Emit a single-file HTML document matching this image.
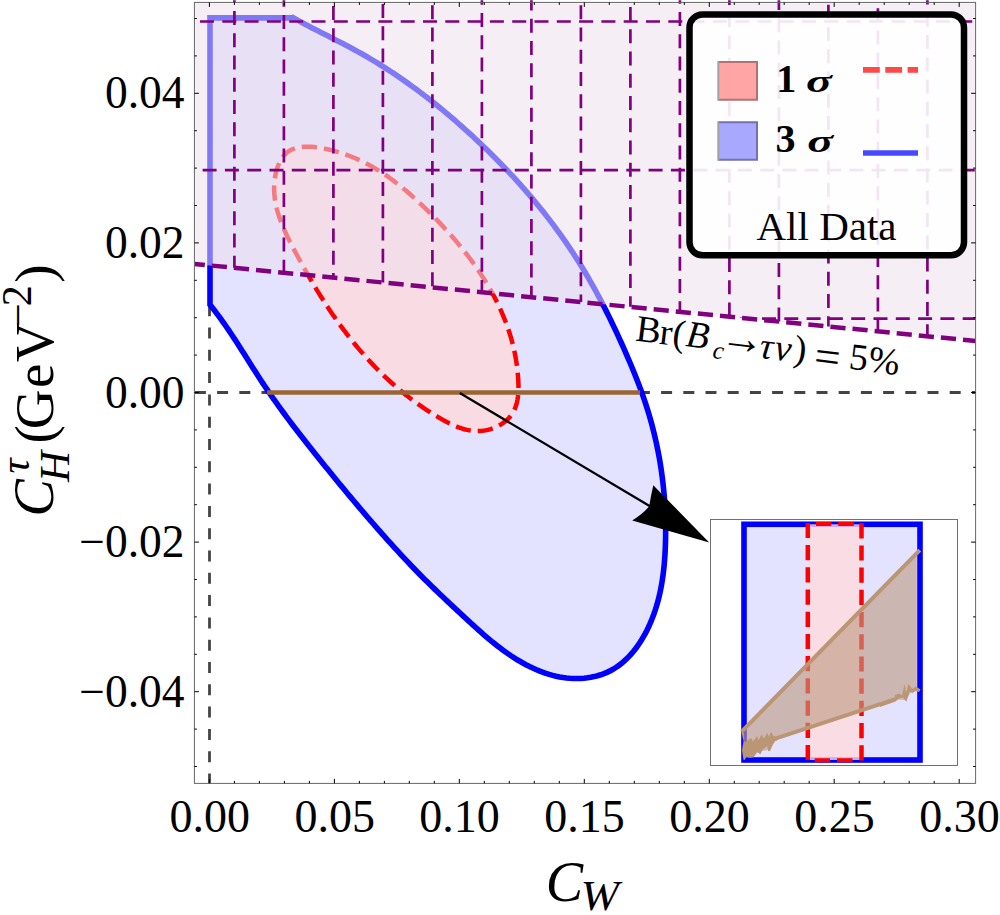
<!DOCTYPE html><html><head><meta charset="utf-8"><style>html,body{margin:0;padding:0;background:#fff;}svg{display:block;}text{font-family:"Liberation Serif",serif;}</style></head><body>
<svg width="1000" height="915" viewBox="0 0 1000 915">
<defs><clipPath id="pc"><rect x="194.4" y="2.4" width="781.2" height="781.0"/></clipPath>
<clipPath id="rc"><path d="M194.4,2.4 L975.6,2.4 L975.6,341.01 L194.4,263.90 Z"/></clipPath>
<clipPath id="rc2"><path d="M194.4,0.3 L975.6,0.3 L975.6,341.01 L194.4,263.90 Z"/></clipPath>
</defs>
<rect width="1000" height="915" fill="#fff"/>
<g clip-path="url(#pc)">
<path d="M210,17.9 L293.1,17.9 L293.30,17.70 L296.33,19.41 L299.37,21.10 L302.43,22.76 L305.50,24.41 L308.58,26.04 L311.67,27.66 L314.77,29.26 L317.87,30.86 L320.99,32.45 L324.10,34.04 L327.22,35.62 L330.33,37.21 L333.45,38.80 L336.57,40.39 L339.68,41.99 L342.79,43.60 L345.89,45.22 L348.99,46.85 L352.07,48.50 L355.15,50.17 L358.22,51.85 L361.27,53.56 L364.32,55.29 L367.35,57.04 L370.37,58.81 L373.37,60.60 L376.37,62.41 L379.35,64.24 L382.31,66.09 L385.27,67.96 L388.21,69.85 L391.13,71.76 L394.04,73.68 L396.94,75.63 L399.83,77.60 L402.70,79.58 L405.56,81.59 L408.41,83.61 L411.25,85.65 L414.07,87.70 L416.88,89.78 L419.67,91.87 L422.46,93.97 L425.23,96.10 L427.99,98.24 L430.74,100.39 L433.48,102.56 L436.20,104.75 L438.92,106.95 L441.62,109.16 L444.31,111.39 L446.99,113.64 L449.66,115.90 L452.32,118.17 L454.97,120.46 L457.61,122.75 L460.23,125.07 L462.85,127.39 L465.45,129.73 L468.05,132.08 L470.64,134.44 L473.21,136.81 L475.78,139.19 L478.33,141.59 L480.87,144.00 L483.41,146.42 L485.93,148.85 L488.44,151.29 L490.93,153.75 L493.42,156.22 L495.89,158.70 L498.35,161.19 L500.80,163.70 L503.24,166.21 L505.66,168.74 L508.07,171.28 L510.47,173.84 L512.85,176.40 L515.22,178.98 L517.57,181.57 L519.91,184.17 L522.24,186.79 L524.55,189.41 L526.85,192.05 L529.13,194.71 L531.40,197.37 L533.65,200.05 L535.88,202.73 L538.10,205.43 L540.31,208.15 L542.49,210.87 L544.66,213.61 L546.82,216.36 L548.96,219.13 L551.08,221.90 L553.18,224.69 L555.26,227.49 L557.33,230.30 L559.38,233.13 L561.41,235.97 L563.43,238.82 L565.42,241.68 L567.40,244.56 L569.35,247.45 L571.29,250.35 L573.21,253.27 L575.11,256.19 L576.99,259.13 L578.85,262.09 L580.69,265.05 L582.51,268.03 L584.31,271.02 L586.09,274.02 L587.86,277.03 L589.60,280.06 L591.33,283.09 L593.04,286.14 L594.73,289.20 L596.41,292.26 L598.07,295.34 L599.71,298.43 L601.34,301.52 L602.95,304.63 L604.54,307.74 L606.12,310.86 L607.69,313.99 L609.24,317.13 L610.78,320.27 L612.30,323.43 L613.81,326.59 L615.31,329.76 L616.79,332.93 L618.26,336.11 L619.72,339.30 L621.17,342.49 L622.60,345.69 L624.03,348.89 L625.44,352.10 L626.84,355.31 L628.23,358.53 L629.61,361.75 L630.97,364.98 L632.32,368.21 L633.65,371.45 L634.97,374.70 L636.26,377.95 L637.54,381.21 L638.79,384.48 L640.02,387.75 L641.23,391.04 L642.42,394.33 L643.57,397.62 L644.70,400.93 L645.81,404.24 L646.88,407.57 L647.92,410.90 L648.93,414.24 L649.92,417.59 L650.87,420.95 L651.79,424.31 L652.68,427.69 L653.54,431.07 L654.38,434.45 L655.18,437.85 L655.95,441.25 L656.69,444.66 L657.40,448.07 L658.09,451.50 L658.74,454.92 L659.36,458.36 L659.96,461.79 L660.52,465.24 L661.05,468.68 L661.56,472.14 L662.03,475.59 L662.48,479.06 L662.89,482.52 L663.28,485.99 L663.64,489.46 L663.97,492.94 L664.27,496.42 L664.53,499.90 L664.77,503.39 L664.99,506.87 L665.17,510.36 L665.32,513.85 L665.44,517.35 L665.54,520.84 L665.60,524.34 L665.64,527.83 L665.65,531.33 L665.62,534.83 L665.57,538.33 L665.49,541.83 L665.39,545.32 L665.25,548.82 L665.08,552.32 L664.88,555.81 L664.64,559.31 L664.37,562.79 L664.05,566.28 L663.69,569.76 L663.28,573.24 L662.82,576.71 L662.31,580.17 L661.75,583.62 L661.13,587.07 L660.45,590.51 L659.71,593.93 L658.90,597.35 L658.03,600.76 L657.09,604.15 L656.07,607.53 L654.98,610.90 L653.81,614.26 L652.56,617.60 L651.23,620.92 L649.82,624.21 L648.32,627.47 L646.74,630.68 L645.08,633.85 L643.34,636.97 L641.51,640.02 L639.60,643.00 L637.61,645.91 L635.53,648.74 L633.37,651.47 L631.12,654.11 L628.79,656.65 L626.37,659.07 L623.87,661.38 L621.28,663.56 L618.60,665.61 L615.83,667.52 L612.98,669.29 L610.05,670.90 L607.02,672.35 L603.91,673.65 L600.74,674.79 L597.49,675.78 L594.19,676.61 L590.83,677.30 L587.44,677.83 L584.00,678.22 L580.54,678.46 L577.05,678.56 L573.55,678.52 L570.05,678.33 L566.54,678.01 L563.04,677.55 L559.56,676.96 L556.09,676.23 L552.66,675.39 L549.25,674.42 L545.86,673.34 L542.52,672.16 L539.21,670.88 L535.94,669.51 L532.71,668.06 L529.53,666.54 L526.39,664.94 L523.30,663.27 L520.25,661.54 L517.24,659.75 L514.27,657.89 L511.33,655.98 L508.43,654.02 L505.56,652.01 L502.73,649.95 L499.92,647.85 L497.14,645.71 L494.39,643.53 L491.66,641.32 L488.96,639.07 L486.27,636.80 L483.61,634.51 L480.96,632.19 L478.33,629.86 L475.72,627.51 L473.11,625.14 L470.52,622.77 L467.94,620.40 L465.36,618.02 L462.79,615.64 L460.23,613.26 L457.67,610.89 L455.11,608.51 L452.56,606.13 L450.02,603.75 L447.49,601.37 L444.96,598.98 L442.44,596.59 L439.92,594.19 L437.42,591.78 L434.92,589.37 L432.43,586.95 L429.94,584.53 L427.47,582.09 L425.00,579.64 L422.54,577.19 L420.09,574.72 L417.65,572.24 L415.22,569.74 L412.80,567.24 L410.39,564.72 L407.99,562.19 L405.59,559.65 L403.20,557.10 L400.83,554.54 L398.45,551.97 L396.09,549.39 L393.73,546.80 L391.39,544.21 L389.04,541.61 L386.71,539.01 L384.38,536.39 L382.06,533.78 L379.74,531.15 L377.43,528.53 L375.13,525.89 L372.83,523.25 L370.53,520.61 L368.25,517.96 L365.97,515.31 L363.69,512.65 L361.42,509.99 L359.15,507.33 L356.89,504.66 L354.64,501.98 L352.38,499.30 L350.14,496.62 L347.90,493.94 L345.66,491.25 L343.43,488.55 L341.20,485.86 L338.97,483.16 L336.75,480.45 L334.54,477.75 L332.32,475.04 L330.11,472.33 L327.91,469.61 L325.71,466.89 L323.51,464.17 L321.31,461.45 L319.12,458.73 L316.93,456.00 L314.74,453.27 L312.56,450.53 L310.39,447.79 L308.22,445.05 L306.05,442.31 L303.89,439.56 L301.74,436.80 L299.60,434.04 L297.46,431.27 L295.33,428.50 L293.21,425.72 L291.10,422.94 L288.99,420.15 L286.90,417.35 L284.82,414.54 L282.75,411.73 L280.69,408.91 L278.64,406.08 L276.61,403.24 L274.58,400.39 L272.57,397.53 L270.58,394.66 L268.60,391.79 L266.63,388.90 L264.68,386.00 L262.74,383.09 L260.82,380.17 L258.91,377.24 L257.01,374.30 L255.13,371.36 L253.25,368.41 L251.37,365.45 L249.51,362.49 L247.64,359.53 L245.77,356.57 L243.90,353.61 L242.03,350.66 L240.15,347.70 L238.27,344.76 L236.37,341.81 L234.47,338.88 L232.55,335.96 L230.61,333.04 L228.66,330.14 L226.69,327.26 L224.70,324.38 L222.68,321.53 L220.64,318.69 L218.58,315.87 L216.48,313.07 L214.35,310.29 L212.19,307.53 L210.00,304.80 L210,304.8 Z" fill="#e3e3ff"/>
<path d="M274.92,177.75 L275.40,175.05 L275.99,172.36 L276.71,169.71 L277.55,167.11 L278.52,164.58 L279.62,162.16 L280.86,159.85 L282.23,157.68 L283.74,155.68 L285.41,153.87 L287.22,152.26 L289.18,150.88 L291.28,149.72 L293.51,148.76 L295.86,148.00 L298.31,147.42 L300.86,147.01 L303.48,146.75 L306.17,146.65 L308.91,146.67 L311.70,146.81 L314.51,147.07 L317.34,147.41 L320.18,147.85 L323.01,148.35 L325.82,148.91 L328.60,149.52 L331.35,150.18 L334.06,150.88 L336.75,151.63 L339.41,152.42 L342.04,153.25 L344.64,154.13 L347.21,155.04 L349.76,156.00 L352.28,157.00 L354.77,158.04 L357.23,159.11 L359.68,160.22 L362.09,161.37 L364.48,162.56 L366.85,163.78 L369.20,165.03 L371.52,166.32 L373.82,167.64 L376.10,168.99 L378.36,170.37 L380.60,171.79 L382.82,173.23 L385.02,174.70 L387.21,176.20 L389.37,177.73 L391.52,179.28 L393.65,180.86 L395.76,182.46 L397.86,184.09 L399.94,185.74 L402.01,187.41 L404.06,189.11 L406.10,190.82 L408.13,192.56 L410.15,194.31 L412.15,196.08 L414.14,197.87 L416.12,199.68 L418.10,201.50 L420.06,203.33 L422.01,205.19 L423.95,207.05 L425.89,208.93 L427.82,210.82 L429.74,212.72 L431.65,214.63 L433.55,216.56 L435.45,218.49 L437.34,220.44 L439.21,222.40 L441.08,224.37 L442.93,226.35 L444.78,228.35 L446.61,230.35 L448.43,232.37 L450.24,234.40 L452.03,236.44 L453.81,238.49 L455.58,240.56 L457.33,242.63 L459.07,244.72 L460.80,246.82 L462.50,248.93 L464.19,251.06 L465.87,253.19 L467.52,255.34 L469.16,257.50 L470.78,259.67 L472.38,261.85 L473.97,264.04 L475.53,266.25 L477.07,268.46 L478.60,270.69 L480.10,272.94 L481.58,275.19 L483.04,277.45 L484.47,279.73 L485.89,282.02 L487.28,284.32 L488.64,286.63 L489.98,288.95 L491.30,291.29 L492.59,293.64 L493.86,296.00 L495.10,298.37 L496.32,300.75 L497.50,303.15 L498.66,305.55 L499.80,307.97 L500.90,310.40 L501.97,312.85 L503.02,315.30 L504.04,317.77 L505.02,320.25 L505.98,322.74 L506.90,325.24 L507.79,327.76 L508.65,330.28 L509.48,332.82 L510.27,335.37 L511.04,337.94 L511.76,340.51 L512.46,343.10 L513.11,345.70 L513.74,348.31 L514.32,350.93 L514.87,353.57 L515.39,356.22 L515.86,358.87 L516.30,361.55 L516.70,364.23 L517.07,366.93 L517.39,369.63 L517.67,372.35 L517.92,375.08 L518.12,377.83 L518.28,380.59 L518.40,383.35 L518.46,386.11 L518.44,388.87 L518.35,391.60 L518.17,394.31 L517.89,396.98 L517.49,399.61 L516.97,402.19 L516.32,404.70 L515.51,407.15 L514.55,409.51 L513.43,411.79 L512.12,413.97 L510.62,416.04 L508.94,418.01 L507.08,419.85 L505.07,421.58 L502.92,423.18 L500.65,424.64 L498.27,425.97 L495.80,427.16 L493.25,428.21 L490.65,429.10 L488.00,429.84 L485.33,430.41 L482.65,430.82 L479.98,431.06 L477.32,431.13 L474.68,431.04 L472.05,430.79 L469.45,430.40 L466.86,429.87 L464.30,429.23 L461.75,428.46 L459.22,427.59 L456.70,426.62 L454.21,425.57 L451.73,424.44 L449.27,423.24 L446.83,421.99 L444.40,420.69 L442.00,419.35 L439.61,417.97 L437.24,416.58 L434.88,415.16 L432.55,413.73 L430.23,412.27 L427.93,410.79 L425.65,409.29 L423.38,407.77 L421.13,406.23 L418.90,404.67 L416.69,403.09 L414.50,401.49 L412.32,399.87 L410.16,398.24 L408.02,396.59 L405.89,394.92 L403.78,393.23 L401.70,391.53 L399.62,389.81 L397.57,388.07 L395.53,386.32 L393.51,384.55 L391.51,382.77 L389.53,380.98 L387.56,379.17 L385.61,377.34 L383.68,375.50 L381.77,373.65 L379.87,371.78 L377.98,369.90 L376.12,368.01 L374.27,366.10 L372.43,364.18 L370.61,362.24 L368.81,360.30 L367.02,358.34 L365.25,356.36 L363.49,354.38 L361.74,352.38 L360.01,350.37 L358.30,348.34 L356.60,346.31 L354.91,344.26 L353.23,342.20 L351.57,340.13 L349.92,338.05 L348.29,335.95 L346.67,333.85 L345.06,331.73 L343.46,329.60 L341.87,327.46 L340.30,325.31 L338.74,323.15 L337.19,320.98 L335.65,318.80 L334.13,316.61 L332.61,314.41 L331.10,312.20 L329.61,309.98 L328.12,307.74 L326.65,305.50 L325.19,303.25 L323.73,300.99 L322.29,298.72 L320.85,296.45 L319.43,294.16 L318.01,291.86 L316.60,289.56 L315.20,287.25 L313.81,284.92 L312.43,282.59 L311.05,280.26 L309.69,277.91 L308.33,275.56 L306.97,273.20 L305.63,270.83 L304.29,268.45 L302.96,266.07 L301.64,263.68 L300.32,261.28 L299.01,258.88 L297.70,256.46 L296.40,254.05 L295.11,251.62 L293.82,249.19 L292.54,246.75 L291.27,244.31 L290.02,241.86 L288.79,239.40 L287.58,236.93 L286.40,234.46 L285.25,231.98 L284.14,229.49 L283.07,226.99 L282.03,224.49 L281.04,221.98 L280.11,219.45 L279.22,216.92 L278.40,214.38 L277.63,211.83 L276.93,209.27 L276.30,206.70 L275.74,204.13 L275.25,201.54 L274.85,198.94 L274.52,196.33 L274.29,193.71 L274.15,191.08 L274.10,188.43 L274.14,185.78 L274.30,183.11 L274.55,180.44 L274.92,177.75 Z" fill="#f9dbe3"/>
<line x1="194.9" y1="392.5" x2="975.6" y2="392.5" stroke="#444" stroke-width="2.9" stroke-dasharray="11 11.2"/>
<line x1="209.5" y1="37.6" x2="209.5" y2="790" stroke="#444" stroke-width="2.8" stroke-dasharray="11 11.3"/>
<path d="M210,17.9 L293.1,17.9 L293.30,17.70 L296.33,19.41 L299.37,21.10 L302.43,22.76 L305.50,24.41 L308.58,26.04 L311.67,27.66 L314.77,29.26 L317.87,30.86 L320.99,32.45 L324.10,34.04 L327.22,35.62 L330.33,37.21 L333.45,38.80 L336.57,40.39 L339.68,41.99 L342.79,43.60 L345.89,45.22 L348.99,46.85 L352.07,48.50 L355.15,50.17 L358.22,51.85 L361.27,53.56 L364.32,55.29 L367.35,57.04 L370.37,58.81 L373.37,60.60 L376.37,62.41 L379.35,64.24 L382.31,66.09 L385.27,67.96 L388.21,69.85 L391.13,71.76 L394.04,73.68 L396.94,75.63 L399.83,77.60 L402.70,79.58 L405.56,81.59 L408.41,83.61 L411.25,85.65 L414.07,87.70 L416.88,89.78 L419.67,91.87 L422.46,93.97 L425.23,96.10 L427.99,98.24 L430.74,100.39 L433.48,102.56 L436.20,104.75 L438.92,106.95 L441.62,109.16 L444.31,111.39 L446.99,113.64 L449.66,115.90 L452.32,118.17 L454.97,120.46 L457.61,122.75 L460.23,125.07 L462.85,127.39 L465.45,129.73 L468.05,132.08 L470.64,134.44 L473.21,136.81 L475.78,139.19 L478.33,141.59 L480.87,144.00 L483.41,146.42 L485.93,148.85 L488.44,151.29 L490.93,153.75 L493.42,156.22 L495.89,158.70 L498.35,161.19 L500.80,163.70 L503.24,166.21 L505.66,168.74 L508.07,171.28 L510.47,173.84 L512.85,176.40 L515.22,178.98 L517.57,181.57 L519.91,184.17 L522.24,186.79 L524.55,189.41 L526.85,192.05 L529.13,194.71 L531.40,197.37 L533.65,200.05 L535.88,202.73 L538.10,205.43 L540.31,208.15 L542.49,210.87 L544.66,213.61 L546.82,216.36 L548.96,219.13 L551.08,221.90 L553.18,224.69 L555.26,227.49 L557.33,230.30 L559.38,233.13 L561.41,235.97 L563.43,238.82 L565.42,241.68 L567.40,244.56 L569.35,247.45 L571.29,250.35 L573.21,253.27 L575.11,256.19 L576.99,259.13 L578.85,262.09 L580.69,265.05 L582.51,268.03 L584.31,271.02 L586.09,274.02 L587.86,277.03 L589.60,280.06 L591.33,283.09 L593.04,286.14 L594.73,289.20 L596.41,292.26 L598.07,295.34 L599.71,298.43 L601.34,301.52 L602.95,304.63 L604.54,307.74 L606.12,310.86 L607.69,313.99 L609.24,317.13 L610.78,320.27 L612.30,323.43 L613.81,326.59 L615.31,329.76 L616.79,332.93 L618.26,336.11 L619.72,339.30 L621.17,342.49 L622.60,345.69 L624.03,348.89 L625.44,352.10 L626.84,355.31 L628.23,358.53 L629.61,361.75 L630.97,364.98 L632.32,368.21 L633.65,371.45 L634.97,374.70 L636.26,377.95 L637.54,381.21 L638.79,384.48 L640.02,387.75 L641.23,391.04 L642.42,394.33 L643.57,397.62 L644.70,400.93 L645.81,404.24 L646.88,407.57 L647.92,410.90 L648.93,414.24 L649.92,417.59 L650.87,420.95 L651.79,424.31 L652.68,427.69 L653.54,431.07 L654.38,434.45 L655.18,437.85 L655.95,441.25 L656.69,444.66 L657.40,448.07 L658.09,451.50 L658.74,454.92 L659.36,458.36 L659.96,461.79 L660.52,465.24 L661.05,468.68 L661.56,472.14 L662.03,475.59 L662.48,479.06 L662.89,482.52 L663.28,485.99 L663.64,489.46 L663.97,492.94 L664.27,496.42 L664.53,499.90 L664.77,503.39 L664.99,506.87 L665.17,510.36 L665.32,513.85 L665.44,517.35 L665.54,520.84 L665.60,524.34 L665.64,527.83 L665.65,531.33 L665.62,534.83 L665.57,538.33 L665.49,541.83 L665.39,545.32 L665.25,548.82 L665.08,552.32 L664.88,555.81 L664.64,559.31 L664.37,562.79 L664.05,566.28 L663.69,569.76 L663.28,573.24 L662.82,576.71 L662.31,580.17 L661.75,583.62 L661.13,587.07 L660.45,590.51 L659.71,593.93 L658.90,597.35 L658.03,600.76 L657.09,604.15 L656.07,607.53 L654.98,610.90 L653.81,614.26 L652.56,617.60 L651.23,620.92 L649.82,624.21 L648.32,627.47 L646.74,630.68 L645.08,633.85 L643.34,636.97 L641.51,640.02 L639.60,643.00 L637.61,645.91 L635.53,648.74 L633.37,651.47 L631.12,654.11 L628.79,656.65 L626.37,659.07 L623.87,661.38 L621.28,663.56 L618.60,665.61 L615.83,667.52 L612.98,669.29 L610.05,670.90 L607.02,672.35 L603.91,673.65 L600.74,674.79 L597.49,675.78 L594.19,676.61 L590.83,677.30 L587.44,677.83 L584.00,678.22 L580.54,678.46 L577.05,678.56 L573.55,678.52 L570.05,678.33 L566.54,678.01 L563.04,677.55 L559.56,676.96 L556.09,676.23 L552.66,675.39 L549.25,674.42 L545.86,673.34 L542.52,672.16 L539.21,670.88 L535.94,669.51 L532.71,668.06 L529.53,666.54 L526.39,664.94 L523.30,663.27 L520.25,661.54 L517.24,659.75 L514.27,657.89 L511.33,655.98 L508.43,654.02 L505.56,652.01 L502.73,649.95 L499.92,647.85 L497.14,645.71 L494.39,643.53 L491.66,641.32 L488.96,639.07 L486.27,636.80 L483.61,634.51 L480.96,632.19 L478.33,629.86 L475.72,627.51 L473.11,625.14 L470.52,622.77 L467.94,620.40 L465.36,618.02 L462.79,615.64 L460.23,613.26 L457.67,610.89 L455.11,608.51 L452.56,606.13 L450.02,603.75 L447.49,601.37 L444.96,598.98 L442.44,596.59 L439.92,594.19 L437.42,591.78 L434.92,589.37 L432.43,586.95 L429.94,584.53 L427.47,582.09 L425.00,579.64 L422.54,577.19 L420.09,574.72 L417.65,572.24 L415.22,569.74 L412.80,567.24 L410.39,564.72 L407.99,562.19 L405.59,559.65 L403.20,557.10 L400.83,554.54 L398.45,551.97 L396.09,549.39 L393.73,546.80 L391.39,544.21 L389.04,541.61 L386.71,539.01 L384.38,536.39 L382.06,533.78 L379.74,531.15 L377.43,528.53 L375.13,525.89 L372.83,523.25 L370.53,520.61 L368.25,517.96 L365.97,515.31 L363.69,512.65 L361.42,509.99 L359.15,507.33 L356.89,504.66 L354.64,501.98 L352.38,499.30 L350.14,496.62 L347.90,493.94 L345.66,491.25 L343.43,488.55 L341.20,485.86 L338.97,483.16 L336.75,480.45 L334.54,477.75 L332.32,475.04 L330.11,472.33 L327.91,469.61 L325.71,466.89 L323.51,464.17 L321.31,461.45 L319.12,458.73 L316.93,456.00 L314.74,453.27 L312.56,450.53 L310.39,447.79 L308.22,445.05 L306.05,442.31 L303.89,439.56 L301.74,436.80 L299.60,434.04 L297.46,431.27 L295.33,428.50 L293.21,425.72 L291.10,422.94 L288.99,420.15 L286.90,417.35 L284.82,414.54 L282.75,411.73 L280.69,408.91 L278.64,406.08 L276.61,403.24 L274.58,400.39 L272.57,397.53 L270.58,394.66 L268.60,391.79 L266.63,388.90 L264.68,386.00 L262.74,383.09 L260.82,380.17 L258.91,377.24 L257.01,374.30 L255.13,371.36 L253.25,368.41 L251.37,365.45 L249.51,362.49 L247.64,359.53 L245.77,356.57 L243.90,353.61 L242.03,350.66 L240.15,347.70 L238.27,344.76 L236.37,341.81 L234.47,338.88 L232.55,335.96 L230.61,333.04 L228.66,330.14 L226.69,327.26 L224.70,324.38 L222.68,321.53 L220.64,318.69 L218.58,315.87 L216.48,313.07 L214.35,310.29 L212.19,307.53 L210.00,304.80 L210,304.8 Z" fill="none" stroke="#0000ff" stroke-width="5.6" stroke-linejoin="miter"/>
<path d="M274.92,177.75 L275.40,175.05 L275.99,172.36 L276.71,169.71 L277.55,167.11 L278.52,164.58 L279.62,162.16 L280.86,159.85 L282.23,157.68 L283.74,155.68 L285.41,153.87 L287.22,152.26 L289.18,150.88 L291.28,149.72 L293.51,148.76 L295.86,148.00 L298.31,147.42 L300.86,147.01 L303.48,146.75 L306.17,146.65 L308.91,146.67 L311.70,146.81 L314.51,147.07 L317.34,147.41 L320.18,147.85 L323.01,148.35 L325.82,148.91 L328.60,149.52 L331.35,150.18 L334.06,150.88 L336.75,151.63 L339.41,152.42 L342.04,153.25 L344.64,154.13 L347.21,155.04 L349.76,156.00 L352.28,157.00 L354.77,158.04 L357.23,159.11 L359.68,160.22 L362.09,161.37 L364.48,162.56 L366.85,163.78 L369.20,165.03 L371.52,166.32 L373.82,167.64 L376.10,168.99 L378.36,170.37 L380.60,171.79 L382.82,173.23 L385.02,174.70 L387.21,176.20 L389.37,177.73 L391.52,179.28 L393.65,180.86 L395.76,182.46 L397.86,184.09 L399.94,185.74 L402.01,187.41 L404.06,189.11 L406.10,190.82 L408.13,192.56 L410.15,194.31 L412.15,196.08 L414.14,197.87 L416.12,199.68 L418.10,201.50 L420.06,203.33 L422.01,205.19 L423.95,207.05 L425.89,208.93 L427.82,210.82 L429.74,212.72 L431.65,214.63 L433.55,216.56 L435.45,218.49 L437.34,220.44 L439.21,222.40 L441.08,224.37 L442.93,226.35 L444.78,228.35 L446.61,230.35 L448.43,232.37 L450.24,234.40 L452.03,236.44 L453.81,238.49 L455.58,240.56 L457.33,242.63 L459.07,244.72 L460.80,246.82 L462.50,248.93 L464.19,251.06 L465.87,253.19 L467.52,255.34 L469.16,257.50 L470.78,259.67 L472.38,261.85 L473.97,264.04 L475.53,266.25 L477.07,268.46 L478.60,270.69 L480.10,272.94 L481.58,275.19 L483.04,277.45 L484.47,279.73 L485.89,282.02 L487.28,284.32 L488.64,286.63 L489.98,288.95 L491.30,291.29 L492.59,293.64 L493.86,296.00 L495.10,298.37 L496.32,300.75 L497.50,303.15 L498.66,305.55 L499.80,307.97 L500.90,310.40 L501.97,312.85 L503.02,315.30 L504.04,317.77 L505.02,320.25 L505.98,322.74 L506.90,325.24 L507.79,327.76 L508.65,330.28 L509.48,332.82 L510.27,335.37 L511.04,337.94 L511.76,340.51 L512.46,343.10 L513.11,345.70 L513.74,348.31 L514.32,350.93 L514.87,353.57 L515.39,356.22 L515.86,358.87 L516.30,361.55 L516.70,364.23 L517.07,366.93 L517.39,369.63 L517.67,372.35 L517.92,375.08 L518.12,377.83 L518.28,380.59 L518.40,383.35 L518.46,386.11 L518.44,388.87 L518.35,391.60 L518.17,394.31 L517.89,396.98 L517.49,399.61 L516.97,402.19 L516.32,404.70 L515.51,407.15 L514.55,409.51 L513.43,411.79 L512.12,413.97 L510.62,416.04 L508.94,418.01 L507.08,419.85 L505.07,421.58 L502.92,423.18 L500.65,424.64 L498.27,425.97 L495.80,427.16 L493.25,428.21 L490.65,429.10 L488.00,429.84 L485.33,430.41 L482.65,430.82 L479.98,431.06 L477.32,431.13 L474.68,431.04 L472.05,430.79 L469.45,430.40 L466.86,429.87 L464.30,429.23 L461.75,428.46 L459.22,427.59 L456.70,426.62 L454.21,425.57 L451.73,424.44 L449.27,423.24 L446.83,421.99 L444.40,420.69 L442.00,419.35 L439.61,417.97 L437.24,416.58 L434.88,415.16 L432.55,413.73 L430.23,412.27 L427.93,410.79 L425.65,409.29 L423.38,407.77 L421.13,406.23 L418.90,404.67 L416.69,403.09 L414.50,401.49 L412.32,399.87 L410.16,398.24 L408.02,396.59 L405.89,394.92 L403.78,393.23 L401.70,391.53 L399.62,389.81 L397.57,388.07 L395.53,386.32 L393.51,384.55 L391.51,382.77 L389.53,380.98 L387.56,379.17 L385.61,377.34 L383.68,375.50 L381.77,373.65 L379.87,371.78 L377.98,369.90 L376.12,368.01 L374.27,366.10 L372.43,364.18 L370.61,362.24 L368.81,360.30 L367.02,358.34 L365.25,356.36 L363.49,354.38 L361.74,352.38 L360.01,350.37 L358.30,348.34 L356.60,346.31 L354.91,344.26 L353.23,342.20 L351.57,340.13 L349.92,338.05 L348.29,335.95 L346.67,333.85 L345.06,331.73 L343.46,329.60 L341.87,327.46 L340.30,325.31 L338.74,323.15 L337.19,320.98 L335.65,318.80 L334.13,316.61 L332.61,314.41 L331.10,312.20 L329.61,309.98 L328.12,307.74 L326.65,305.50 L325.19,303.25 L323.73,300.99 L322.29,298.72 L320.85,296.45 L319.43,294.16 L318.01,291.86 L316.60,289.56 L315.20,287.25 L313.81,284.92 L312.43,282.59 L311.05,280.26 L309.69,277.91 L308.33,275.56 L306.97,273.20 L305.63,270.83 L304.29,268.45 L302.96,266.07 L301.64,263.68 L300.32,261.28 L299.01,258.88 L297.70,256.46 L296.40,254.05 L295.11,251.62 L293.82,249.19 L292.54,246.75 L291.27,244.31 L290.02,241.86 L288.79,239.40 L287.58,236.93 L286.40,234.46 L285.25,231.98 L284.14,229.49 L283.07,226.99 L282.03,224.49 L281.04,221.98 L280.11,219.45 L279.22,216.92 L278.40,214.38 L277.63,211.83 L276.93,209.27 L276.30,206.70 L275.74,204.13 L275.25,201.54 L274.85,198.94 L274.52,196.33 L274.29,193.71 L274.15,191.08 L274.10,188.43 L274.14,185.78 L274.30,183.11 L274.55,180.44 L274.92,177.75 Z" fill="none" stroke="#ff0000" stroke-width="4.5" stroke-dasharray="15.3 7"/>
<line x1="267.1" y1="392.6" x2="640.1" y2="392.6" stroke="#996633" stroke-width="4.5"/>
<path d="M194.4,2.4 L975.6,2.4 L975.6,341.01 L194.4,263.90 Z" fill="rgb(236,223,236)" fill-opacity="0.54"/>
</g>
<g clip-path="url(#rc2)" stroke="#800080" stroke-width="2.7" fill="none">
<line x1="234.4" y1="-11.25" x2="234.4" y2="270.84" stroke-dasharray="14 8.25"/>
<line x1="283.9" y1="-7.25" x2="283.9" y2="275.73" stroke-dasharray="14 8.25"/>
<line x1="333.4" y1="-16.25" x2="333.4" y2="280.62" stroke-dasharray="14 8.25"/>
<line x1="382.9" y1="-18.25" x2="382.9" y2="285.50" stroke-dasharray="14 8.25"/>
<line x1="432.4" y1="-16.95" x2="432.4" y2="290.39" stroke-dasharray="14 8.25"/>
<line x1="481.9" y1="-9.25" x2="481.9" y2="295.28" stroke-dasharray="14 8.25"/>
<line x1="531.4" y1="-3.55" x2="531.4" y2="300.16" stroke-dasharray="14 8.25"/>
<line x1="580.9" y1="-16.95" x2="580.9" y2="305.05" stroke-dasharray="14 8.25"/>
<line x1="630.4" y1="-15.25" x2="630.4" y2="309.94" stroke-dasharray="14 8.25"/>
<line x1="679.9" y1="-10.25" x2="679.9" y2="314.82" stroke-dasharray="14 8.25"/>
<line x1="729.4" y1="-9.00" x2="729.4" y2="319.71" stroke-dasharray="14 8.25"/>
<line x1="778.9" y1="-4.00" x2="778.9" y2="324.60" stroke-dasharray="14 8.25"/>
<line x1="828.4" y1="-17.50" x2="828.4" y2="329.48" stroke-dasharray="14 8.25"/>
<line x1="877.9" y1="-13.90" x2="877.9" y2="334.37" stroke-dasharray="14 8.25"/>
<line x1="927.4" y1="-9.50" x2="927.4" y2="339.26" stroke-dasharray="14 8.25"/>
<line x1="88.5" y1="21.5" x2="980.6" y2="21.5" stroke-dasharray="14 8.3"/>
<line x1="91.1" y1="170.1" x2="980.6" y2="170.1" stroke-dasharray="14 8.3"/>
<line x1="93.0" y1="318.6" x2="980.6" y2="318.6" stroke-dasharray="14 8.3"/>
</g>
<g clip-path="url(#pc)">
<line x1="194.4" y1="263.90" x2="975.6" y2="341.01" stroke="#800080" stroke-width="4.5" stroke-dasharray="15.2 7" stroke-dashoffset="4.7"/>
</g>
<line x1="459.8" y1="393" x2="650" y2="506.2" stroke="#000" stroke-width="2.2"/>
<path d="M709.2,542.4 L653.3,485.3 Q650.6,497 649.3,506.1 Q643.5,513.5 632.2,520.5 Z" fill="#000"/>
<rect x="710.5" y="519.5" width="247" height="246" fill="#fff" stroke="#707070" stroke-width="1"/>
<rect x="744" y="524.3" width="176" height="235.7" fill="#e3e3ff"/>
<rect x="744" y="524.3" width="176" height="235.7" fill="none" stroke="#0000ff" stroke-width="5.6"/>
<rect x="807.8" y="524.3" width="53.7" height="235.7" fill="rgb(255,218,222)" fill-opacity="0.8"/>
<path d="M807.8,522.9 V760.5 M861.5,523.2 V760.5" fill="none" stroke="#ff0000" stroke-width="4.5" stroke-dasharray="15.2 7"/>
<path d="M816,524 H831.3 M838.2,524 H853.8 M814.7,760.2 H830 M837,760.2 H852.5" fill="none" stroke="#ff0000" stroke-width="4"/>
<path d="M744,731.3 L919.2,550.4 L916.8,551 L916.8,688 L912,690 L906,700 L895,699.4 L775.2,739 L768,750 L757,752 L746,758 L744,759 Z" fill="rgb(190,155,129)" fill-opacity="0.62"/>
<line x1="741.6" y1="731.6" x2="919.8" y2="550.2" stroke="#bb9674" stroke-width="4"/>
<polyline points="775.2,738.6 894.7,699.4" fill="none" stroke="#bb9674" stroke-width="4"/>
<polygon points="880,703 894.7,697.5 894.7,695.3 898.9,693.6 902.1,695.5 904.6,684 906,693 908.5,684 912.2,689 915.9,686.5 920.5,689.5 919,692 915.5,691 912.5,693 909.5,692 906.4,701.7 903,697.5 898.9,698.5 895.5,701.5 880,707" fill="#bb9674"/>
<polygon points="741.3,731.3 744,732.5 744.5,742 746.8,741.1 751.1,738.1 753.1,741.6 757.1,736.1 758.6,740.1 761.6,734.6 764.1,738.6 767.2,733.1 768.7,736.6 771.4,731.8 773.2,736.1 775.2,736.6 777,741 775.2,741.1 772.2,746.1 770.2,750.7 768.2,751.2 767.2,746.1 762.1,750.2 760.6,754.2 757.1,752.2 755.1,755.2 753.6,757.2 749.1,757.7 746.1,756.2 745,759.7 743.5,759.7 742,750.2 743.5,741" fill="#bb9674"/>
<rect x="689.5" y="14.4" width="274.5" height="240.9" rx="13" ry="13" fill="#fff" fill-opacity="0.9" stroke="#000" stroke-width="6.5"/>
<rect x="718.3" y="62.1" width="38.6" height="37.6" fill="#ffa5a5"/>
<path d="M718.3,62.1 H757 V99.7 H718.3" fill="none" stroke="#b07272" stroke-width="2"/>
<path d="M718.3,61 V100.8" fill="none" stroke="#a2a2a2" stroke-width="2"/>
<rect x="718.3" y="122.3" width="38.6" height="37.4" fill="#a8a8ff"/>
<path d="M718.3,122.3 H757 V159.7 H718.3" fill="none" stroke="#7272b0" stroke-width="2"/>
<path d="M718.3,121.2 V160.8" fill="none" stroke="#a2a2a2" stroke-width="2"/>
<text x="776.2" y="91.7" font-size="40" font-weight="bold">1</text>
<text x="775.6" y="151.6" font-size="40" font-weight="bold">3</text>
<text transform="translate(806.1,91.7) scale(1.2,0.79)" font-size="40" font-weight="bold" font-style="italic">σ</text>
<text transform="translate(807.3,151.7) scale(1.2,0.79)" font-size="40" font-weight="bold" font-style="italic">σ</text>
<line x1="863" y1="69.9" x2="918" y2="69.9" stroke="#ff4848" stroke-width="5.8" stroke-dasharray="16.8 5.5"/>
<line x1="863" y1="153" x2="918" y2="153" stroke="#4848ff" stroke-width="5.5"/>
<text x="756.5" y="240" font-size="41">All Data</text>
<rect x="194.4" y="2.4" width="781.2" height="781.0" fill="none" stroke="#666" stroke-width="1"/>
<path d="M209.4,783.4v-4.5 M209.4,2.4v4.5 M234.4,783.4v-2.5 M234.4,2.4v2.5 M259.4,783.4v-2.5 M259.4,2.4v2.5 M284.4,783.4v-2.5 M284.4,2.4v2.5 M309.4,783.4v-2.5 M309.4,2.4v2.5 M334.4,783.4v-4.5 M334.4,2.4v4.5 M359.4,783.4v-2.5 M359.4,2.4v2.5 M384.4,783.4v-2.5 M384.4,2.4v2.5 M409.3,783.4v-2.5 M409.3,2.4v2.5 M434.3,783.4v-2.5 M434.3,2.4v2.5 M459.3,783.4v-4.5 M459.3,2.4v4.5 M484.3,783.4v-2.5 M484.3,2.4v2.5 M509.3,783.4v-2.5 M509.3,2.4v2.5 M534.3,783.4v-2.5 M534.3,2.4v2.5 M559.3,783.4v-2.5 M559.3,2.4v2.5 M584.3,783.4v-4.5 M584.3,2.4v4.5 M609.3,783.4v-2.5 M609.3,2.4v2.5 M634.3,783.4v-2.5 M634.3,2.4v2.5 M659.3,783.4v-2.5 M659.3,2.4v2.5 M684.3,783.4v-2.5 M684.3,2.4v2.5 M709.3,783.4v-4.5 M709.3,2.4v4.5 M734.3,783.4v-2.5 M734.3,2.4v2.5 M759.2,783.4v-2.5 M759.2,2.4v2.5 M784.2,783.4v-2.5 M784.2,2.4v2.5 M809.2,783.4v-2.5 M809.2,2.4v2.5 M834.2,783.4v-4.5 M834.2,2.4v4.5 M859.2,783.4v-2.5 M859.2,2.4v2.5 M884.2,783.4v-2.5 M884.2,2.4v2.5 M909.2,783.4v-2.5 M909.2,2.4v2.5 M934.2,783.4v-2.5 M934.2,2.4v2.5 M959.2,783.4v-4.5 M959.2,2.4v4.5 M194.4,766.5h2.5 M975.6,766.5h-2.5 M194.4,729.1h2.5 M975.6,729.1h-2.5 M194.4,691.7h4.5 M975.6,691.7h-4.5 M194.4,654.3h2.5 M975.6,654.3h-2.5 M194.4,616.9h2.5 M975.6,616.9h-2.5 M194.4,579.5h2.5 M975.6,579.5h-2.5 M194.4,542.1h4.5 M975.6,542.1h-4.5 M194.4,504.7h2.5 M975.6,504.7h-2.5 M194.4,467.3h2.5 M975.6,467.3h-2.5 M194.4,429.9h2.5 M975.6,429.9h-2.5 M194.4,392.5h4.5 M975.6,392.5h-4.5 M194.4,355.1h2.5 M975.6,355.1h-2.5 M194.4,317.7h2.5 M975.6,317.7h-2.5 M194.4,280.3h2.5 M975.6,280.3h-2.5 M194.4,242.9h4.5 M975.6,242.9h-4.5 M194.4,205.5h2.5 M975.6,205.5h-2.5 M194.4,168.1h2.5 M975.6,168.1h-2.5 M194.4,130.7h2.5 M975.6,130.7h-2.5 M194.4,93.3h4.5 M975.6,93.3h-4.5 M194.4,55.9h2.5 M975.6,55.9h-2.5 M194.4,18.5h2.5 M975.6,18.5h-2.5" stroke="#000" stroke-width="1" fill="none"/>
<text x="184.6" y="108.3" font-size="45.5" text-anchor="end">0.04</text>
<text x="184.6" y="257.9" font-size="45.5" text-anchor="end">0.02</text>
<text x="184.6" y="407.5" font-size="45.5" text-anchor="end">0.00</text>
<text x="184.6" y="557.1" font-size="45.5" text-anchor="end">−0.02</text>
<text x="184.6" y="706.7" font-size="45.5" text-anchor="end">−0.04</text>
<text x="209.7" y="831.8" font-size="46" text-anchor="middle">0.00</text>
<text x="334.7" y="831.8" font-size="46" text-anchor="middle">0.05</text>
<text x="459.6" y="831.8" font-size="46" text-anchor="middle">0.10</text>
<text x="584.6" y="831.8" font-size="46" text-anchor="middle">0.15</text>
<text x="709.6" y="831.8" font-size="46" text-anchor="middle">0.20</text>
<text x="834.5" y="831.8" font-size="46" text-anchor="middle">0.25</text>
<text x="959.5" y="831.8" font-size="46" text-anchor="middle">0.30</text>
<text x="545.8" y="901" font-size="56" font-style="italic">C</text>
<text transform="translate(580.6,910) scale(1.1,1)" font-size="42" font-style="italic">W</text>
<text transform="translate(52.8,516.5) rotate(-90)" font-size="56" font-style="italic">C</text>
<text transform="translate(69.0,482.0) rotate(-90)" font-size="43" font-style="italic">H</text>
<text transform="translate(29.0,473.5) rotate(-90)" font-size="42" font-style="italic">τ</text>
<text transform="translate(53.0,443.6) rotate(-90)" font-size="55">(</text>
<text transform="translate(52.8,429.3) rotate(-90)" font-size="55" letter-spacing="1.6">GeV</text>
<text transform="translate(32.0,327.0) rotate(-90)" font-size="42">−</text>
<text transform="translate(30.5,306.3) rotate(-90)" font-size="42">2</text>
<text transform="translate(53.0,282.7) rotate(-90)" font-size="55">)</text>
<text transform="translate(634.8,340.5) rotate(7.0)" font-size="37.5">B</text>
<text transform="translate(658.5,343.8) rotate(7.0)" font-size="37.5">r</text>
<text transform="translate(671.5,345.0) rotate(7.0)" font-size="37.5">(</text>
<text transform="translate(685.0,346.0) rotate(7.0)" font-size="37.5" font-style="italic">B</text>
<text transform="translate(712.0,358.0) rotate(7.0)" font-size="25" font-style="italic">c</text>
<text transform="translate(719.0,350.1) rotate(7.0)" font-size="44">→</text>
<text transform="translate(758.6,357.7) rotate(7.0)" font-size="37.5" font-style="italic">τ</text>
<text transform="translate(773.4,359.5) rotate(7.0)" font-size="37.5" font-style="italic">ν</text>
<text transform="translate(792.7,360.5) rotate(7.0)" font-size="37.5">)</text>
<text transform="translate(812.8,370.6) rotate(7.0)" font-size="46">=</text>
<text transform="translate(848.1,368.4) rotate(7.0)" font-size="37.5">5</text>
<text transform="translate(867.2,371.3) rotate(7.0)" font-size="37.5">%</text>
</svg></body></html>
